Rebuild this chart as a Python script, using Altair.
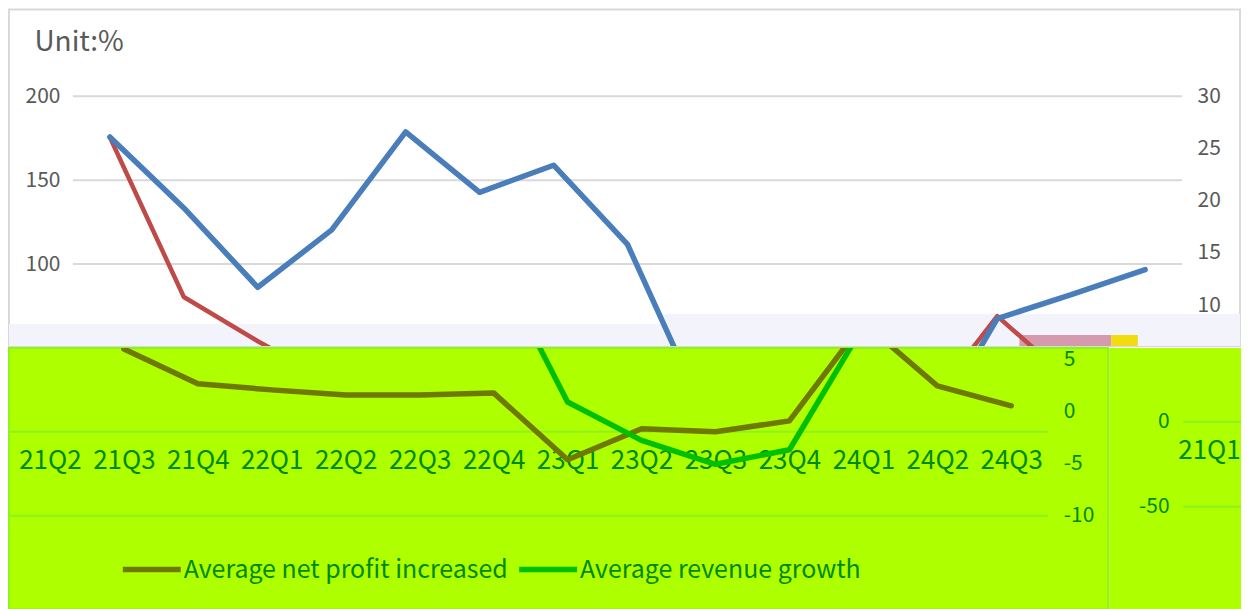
import json
import altair as alt
import pandas as pd

FONT = "Noto Sans CJK SC"

# ---------------- data ----------------
SERIES = ["Average net profit increased", "Average revenue growth"]

# upper (white) chart: 15 quarters
TOP_QUARTERS = ["21Q1", "21Q2", "21Q3", "21Q4", "22Q1", "22Q2", "22Q3", "22Q4",
                "23Q1", "23Q2", "23Q3", "23Q4", "24Q1", "24Q2", "24Q3"]
TOP_REVENUE = [26.1, 19.3, 11.7, 17.2, 26.6, 20.8, 23.4, 15.8, 0.2, None, None,
               -3.4, 8.7, 11.0, 13.4]
TOP_PROFIT = [175.6, 80.4, 54.0, 30.0, None, None, None, None, None, None, None,
              12.0, 69.0, 30.0, None]
TOP_LEFT_TICKS = [100, 150, 200]
TOP_RIGHT_TICKS = [10, 15, 20, 25, 30]

# lower (lime) chart: 14 quarters
BOTTOM_QUARTERS = ["21Q2", "21Q3", "21Q4", "22Q1", "22Q2", "22Q3", "22Q4",
                   "23Q1", "23Q2", "23Q3", "23Q4", "24Q1", "24Q2", "24Q3"]
BOTTOM_PROFIT = [None, 49.4, 28.6, 25.0, 22.0, 22.0, 23.2, -16.7, 1.8, 0.0,
                 6.5, 65.2, 27.4, 15.5]
BOTTOM_REVENUE = [None, None, None, None, None, None, 14.8, 0.9, -2.8, -5.1,
                  -3.7, 8.2, None, None]
BOTTOM_LEFT_GRID = [0, -50]
BOTTOM_RIGHT_TICKS = [5, 0, -5, -10]

# right-hand fragment
SIDE_QUARTERS = ["21Q1"]
SIDE_LEFT_TICKS = [0, -50]

# ---------------- styles ----------------
LIME = "#AEFF00"
GRID_LIME = "#8EF21C"
DARK_GREEN = "#008A00"
BLUE = "#4A7EBB"
RED = "#BE4B48"
OLIVE = "#6F7800"
GREEN = "#00C000"
GREY_TXT = "#595959"
PLAIN_LABEL = "toString(datum.value)"


def series_df(values, name):
    rows = [{"idx": i, "series": name, "value": v}
            for i, v in enumerate(values) if v is not None]
    return pd.DataFrame(rows)


def fixed(domain):
    return alt.Scale(domain=domain, nice=False, zero=False)


# =============== upper chart (white) ===============
tx = fixed([-1.364, 15.282])
t_left = fixed([51.19, 251.79])
t_right = fixed([6.077, 38.325])

t_left_axis = alt.Axis(orient="left", values=TOP_LEFT_TICKS, offset=-51,
                       labelPadding=0, ticks=False, domain=False, grid=False,
                       labelFont=FONT, labelFontSize=21, labelColor=GREY_TXT,
                       title="Unit:%", titleAngle=0, titleAlign="left",
                       titleBaseline="alphabetic", titleX=-26, titleY=41,
                       titleFont=FONT, titleFontSize=28, titleColor=GREY_TXT,
                       titleFontWeight="normal")
t_right_axis = alt.Axis(orient="right", values=TOP_RIGHT_TICKS, offset=-43,
                        labelPadding=0, ticks=False, domain=False, grid=False,
                        labelFont=FONT, labelFontSize=21, labelColor=GREY_TXT,
                        title=None)

bands = pd.DataFrame({
    "x0": [-2.0, 7.45, 12.3, 13.54],
    "x1": [7.45, 16.0, 13.54, 13.9],
    "y0": [40.0, 40.0, 40.0, 40.0],
    "y1": [64.3, 70.2, 57.7, 57.7],
    "c": ["#F3F3FC", "#F3F3FC", "#D69AAF", "#F2DC10"],
})
t_bands = alt.Chart(bands).mark_rect(clip=True).encode(
    x=alt.X("x0:Q", scale=tx, axis=None), x2="x1",
    y=alt.Y("y0:Q", scale=t_left, axis=t_left_axis), y2="y1",
    color=alt.Color("c:N", scale=None),
)

t_grid_df = pd.DataFrame({"v": TOP_LEFT_TICKS, "x0": -0.5, "x1": 14.5})
t_grid = alt.Chart(t_grid_df).mark_rule(color="#D9D9D9", strokeWidth=2, clip=True).encode(
    x=alt.X("x0:Q", scale=tx, axis=None), x2="x1",
    y=alt.Y("v:Q", scale=t_left, axis=t_left_axis),
)

t_red = alt.Chart(series_df(TOP_PROFIT, SERIES[0])).mark_line(
    color=RED, strokeWidth=4.5, strokeCap="round", strokeJoin="round", clip=True
).encode(
    x=alt.X("idx:Q", scale=tx, axis=None),
    y=alt.Y("value:Q", scale=t_left, axis=t_left_axis),
)

t_blue = alt.Chart(series_df(TOP_REVENUE, SERIES[1])).mark_line(
    color=BLUE, strokeWidth=5.5, strokeCap="round", strokeJoin="round", clip=True
).encode(
    x=alt.X("idx:Q", scale=tx, axis=None),
    y=alt.Y("value:Q", scale=t_right, axis=t_right_axis),
)

top = alt.layer(alt.layer(t_bands, t_grid, t_red), t_blue).resolve_scale(
    y="independent"
).properties(
    width=1233, height=337,
    view=alt.ViewBackground(fill="white", stroke="#D9D9D9", strokeWidth=2),
)

# =============== lower chart (lime) ===============
lx = fixed([-0.5535, 14.311])
l_left = fixed([-105.95, 50.0])
l_right = fixed([-19.087, 6.106])

l_x_axis = alt.Axis(orient="bottom", values=list(range(len(BOTTOM_QUARTERS))),
                    labelExpr=f"{json.dumps(BOTTOM_QUARTERS)}[datum.value]",
                    offset=-141, labelPadding=0, labelBaseline="alphabetic",
                    ticks=False, domain=False, grid=False, labelFont=FONT,
                    labelFontSize=26, labelColor=DARK_GREEN, labelOverlap=False,
                    labelFlush=False, title=None)
l_right_axis = alt.Axis(orient="right", values=BOTTOM_RIGHT_TICKS, offset=-45,
                        labelPadding=0, ticks=False, domain=False, grid=False,
                        labelExpr=PLAIN_LABEL,
                        labelFont=FONT, labelFontSize=21, labelColor=DARK_GREEN,
                        title=None)

l_grid_df = pd.DataFrame({"v": BOTTOM_LEFT_GRID, "x0": -0.6, "x1": 13.5})
l_grid = alt.Chart(l_grid_df).mark_rule(color=GRID_LIME, strokeWidth=2, clip=True).encode(
    x=alt.X("x0:Q", scale=lx, axis=l_x_axis), x2="x1",
    y=alt.Y("v:Q", scale=l_left, axis=None),
)

color_enc = alt.Color(
    "series:N",
    scale=alt.Scale(domain=SERIES, range=[OLIVE, GREEN]),
    legend=alt.Legend(orient="none", legendX=111, legendY=529,
                      direction="horizontal", title=None, labelFont=FONT,
                      labelFontSize=25, labelColor=DARK_GREEN,
                      symbolType="stroke", symbolSize=3364,
                      symbolStrokeWidth=5.5, labelOffset=0, columnPadding=0,
                      labelLimit=0),
)

l_olive = alt.Chart(series_df(BOTTOM_PROFIT, SERIES[0])).mark_line(
    strokeWidth=5.5, strokeCap="round", strokeJoin="round", clip=True
).encode(
    x=alt.X("idx:Q", scale=lx, axis=l_x_axis),
    y=alt.Y("value:Q", scale=l_left, axis=None),
    color=color_enc,
)

l_green = alt.Chart(series_df(BOTTOM_REVENUE, SERIES[1])).mark_line(
    strokeWidth=5.5, strokeCap="round", strokeJoin="round", clip=True
).encode(
    x=alt.X("idx:Q", scale=lx, axis=l_x_axis),
    y=alt.Y("value:Q", scale=l_right, axis=l_right_axis),
    color=color_enc,
)

lower = alt.layer(alt.layer(l_grid, l_olive), l_green).resolve_scale(
    y="independent"
).properties(
    width=1101, height=262,
    view=alt.ViewBackground(fill=LIME, stroke=GRID_LIME, strokeWidth=2),
)

# =============== right-hand fragment ===============
fx = fixed([-1.350, 0.432])
f_left = fixed([-110.6, 43.53])

f_x_axis = alt.Axis(orient="bottom", values=[0],
                    labelExpr=f"{json.dumps(SIDE_QUARTERS)}[datum.value]",
                    offset=-151, labelPadding=0, labelBaseline="alphabetic",
                    ticks=False, domain=False, grid=False, labelFont=FONT,
                    labelFontSize=26, labelColor=DARK_GREEN, labelOverlap=False,
                    labelFlush=False, title=None)
f_left_axis = alt.Axis(orient="left", values=SIDE_LEFT_TICKS, offset=-60,
                       labelPadding=0, ticks=False, domain=False, grid=False,
                       labelExpr=PLAIN_LABEL,
                       labelFont=FONT, labelFontSize=21, labelColor=DARK_GREEN,
                       title=None)

f_grid_df = pd.DataFrame({"v": SIDE_LEFT_TICKS, "x0": -0.35, "x1": 1.0})
side = alt.Chart(f_grid_df).mark_rule(color=GRID_LIME, strokeWidth=2, clip=True).encode(
    x=alt.X("x0:Q", scale=fx, axis=f_x_axis), x2="x1",
    y=alt.Y("v:Q", scale=f_left, axis=f_left_axis),
).properties(
    width=132, height=262,
    view=alt.ViewBackground(fill=LIME, stroke="transparent", strokeWidth=0),
)

chart = alt.vconcat(
    top,
    alt.hconcat(lower, side, spacing=0),
    spacing=0,
).properties(background="white", padding=0)

chart.save("out.html", embed_options={"renderer": "svg", "actions": False})
